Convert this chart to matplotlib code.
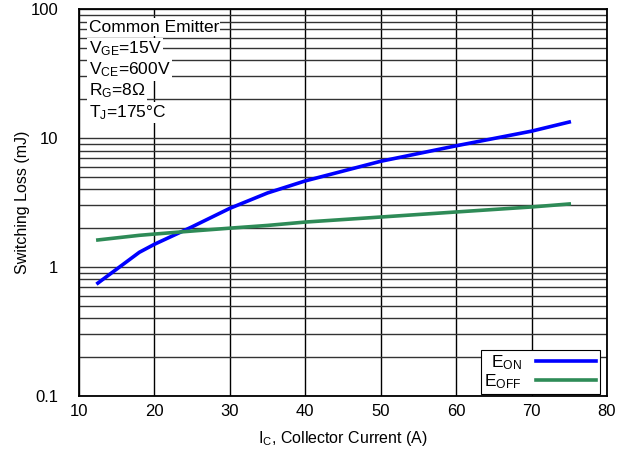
import matplotlib
matplotlib.use("Agg")
import matplotlib.pyplot as plt
from matplotlib.ticker import FixedLocator, LogLocator, NullFormatter

plt.rcParams['font.family'] = ['Liberation Sans', 'DejaVu Sans']
plt.rcParams['mathtext.fontset'] = 'custom'
plt.rcParams['mathtext.rm'] = 'Liberation Sans'
plt.rcParams['mathtext.it'] = 'Liberation Sans'

# collector current (A) and switching losses (mJ)
ic = [12.5, 18, 20, 25, 30, 35, 40, 50, 60, 70, 75]
e_on = [0.75, 1.3, 1.5, 2.05, 2.85, 3.75, 4.65, 6.6, 8.7, 11.3, 13.3]
e_off = [1.62, 1.76, 1.8, 1.9, 2.0, 2.1, 2.23, 2.44, 2.67, 2.92, 3.08]

conditions = ["Common Emitter", r"V$_{\rm GE}$=15V", r"V$_{\rm CE}$=600V",
              r"R$_{\rm G}$=8$\Omega$", r"T$_{\rm J}$=175°C"]

fig = plt.figure(figsize=(6.27, 4.51), dpi=100)
ax = fig.add_axes([0.126, 0.122, 0.842, 0.858])

ax.set_yscale('log')
ax.set_xlim(10, 80)
ax.set_ylim(0.1, 100)
ax.xaxis.set_major_locator(FixedLocator(range(10, 81, 10)))
ax.yaxis.set_major_locator(FixedLocator([0.1, 1, 10, 100]))
ax.set_yticklabels(['0.1', '1', '10', '100'])
ax.yaxis.set_minor_locator(LogLocator(base=10, subs=range(2, 10)))
ax.yaxis.set_minor_formatter(NullFormatter())
ax.tick_params(which='both', length=0, labelsize=12)
ax.tick_params(axis='x', pad=6)
ax.tick_params(axis='y', pad=15)

ax.grid(True, which='major', axis='x', color='black', lw=1)
ax.grid(True, which='both', axis='y', color='#333333', lw=1)
for s in ax.spines.values():
    s.set_linewidth(1.3)

ax.plot(ic, e_on, color='#0000ff', lw=2.6, label=r'E$_{\rm ON}$')
ax.plot(ic, e_off, color='#2e8b57', lw=2.6, label=r'E$_{\rm OFF}$')

for k, t in enumerate(conditions):
    ax.text(0.018, 0.953 - 0.055 * k, t, transform=ax.transAxes,
            fontsize=12.5, va='center',
            bbox=dict(facecolor='white', edgecolor='none', pad=1))

leg = ax.legend(loc='lower right', markerfirst=False, fontsize=12.5,
                fancybox=False, framealpha=1, edgecolor='black',
                handlelength=3.5, borderaxespad=0.1, labelspacing=0.0,
                borderpad=0.2, bbox_to_anchor=(0.99, 0.0))
leg.get_frame().set_linewidth(0.8)

ax.set_xlabel(r'I$_{\rm C}$, Collector Current (A)', fontsize=11.5, labelpad=7)
ax.set_ylabel('Switching Loss (mJ)', fontsize=11.5, labelpad=0)

fig.savefig('out.png', dpi=100)
